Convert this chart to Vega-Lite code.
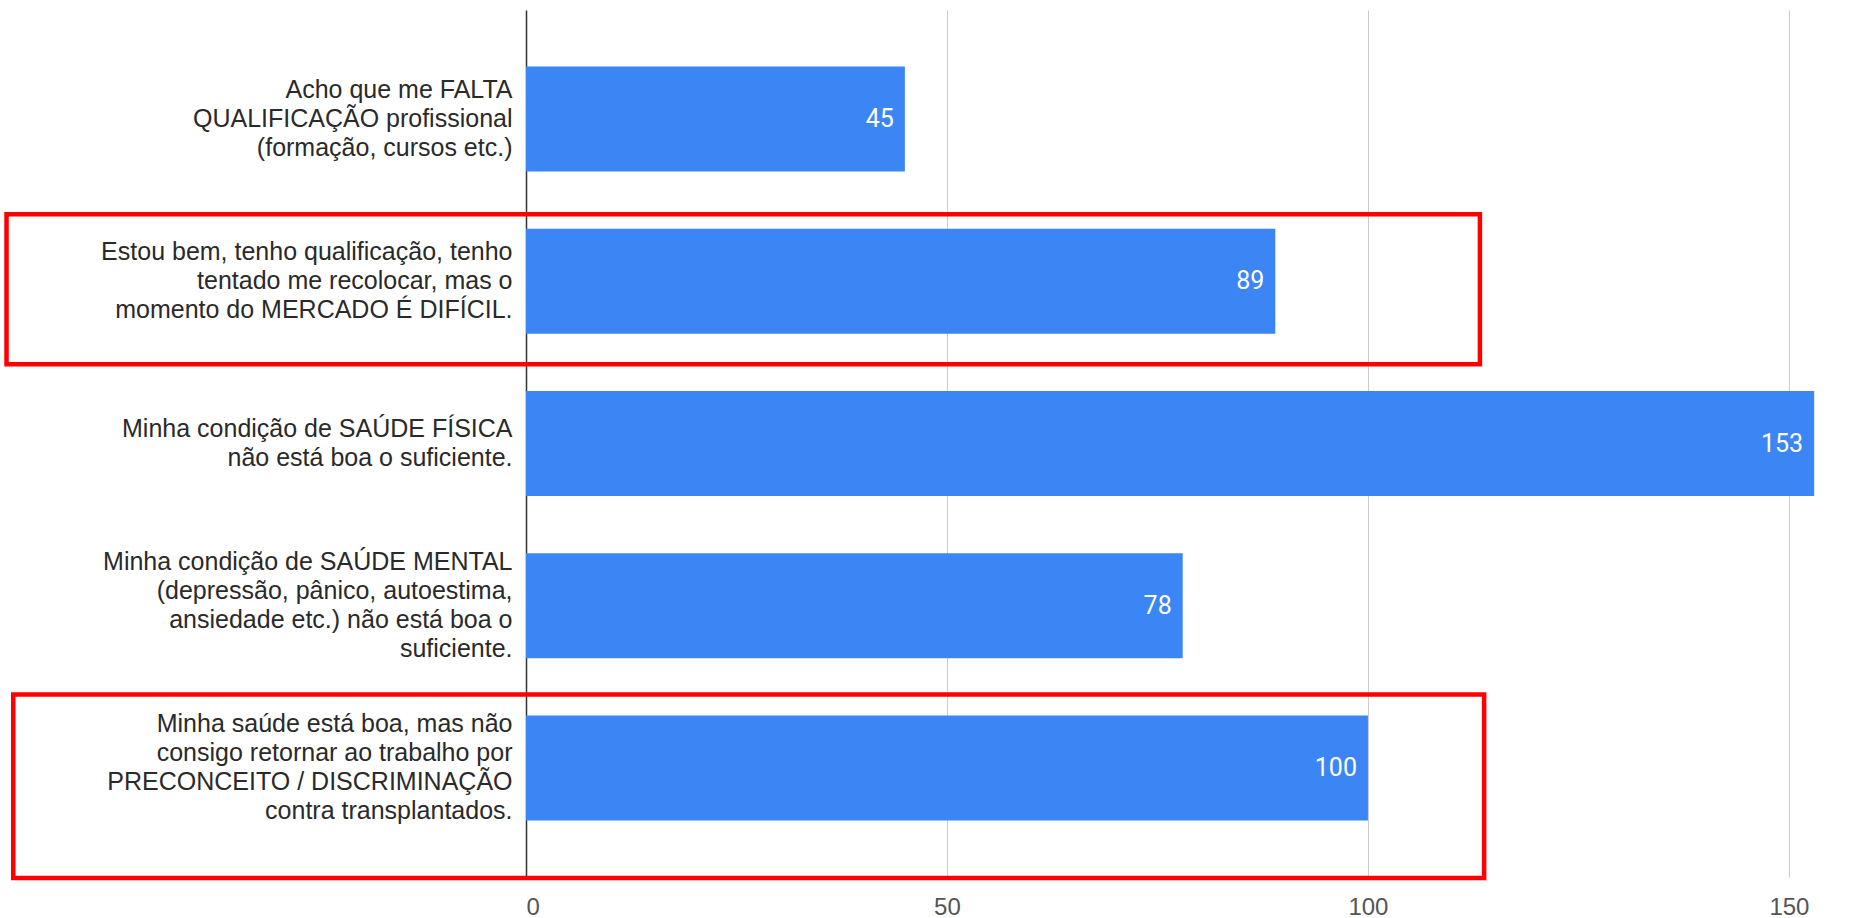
{
  "$schema": "https://vega.github.io/schema/vega-lite/v6.json",
  "width": 1305,
  "height": 867,
  "autosize": {"type": "none"},
  "padding": {"left": 526, "top": 10, "right": 19, "bottom": 41},
  "background": "white",
  "config": {"view": {"stroke": null}, "font": "Liberation Sans"},
  "data": {
    "values": [
      {"answer": "Acho que me FALTA\nQUALIFICAÇÃO profissional\n(formação, cursos etc.)", "count": 45, "box": 0},
      {"answer": "Estou bem, tenho qualificação, tenho\ntentado me recolocar, mas o\nmomento do MERCADO É DIFÍCIL.", "count": 89, "box": 1, "boxFrom": -61.7, "boxTo": 113.3},
      {"answer": "Minha condição de SAÚDE FÍSICA\nnão está boa o suficiente.", "count": 153, "box": 0},
      {"answer": "Minha condição de SAÚDE MENTAL\n(depressão, pânico, autoestima,\nansiedade etc.) não está boa o\nsuficiente.", "count": 78, "box": 0},
      {"answer": "Minha saúde está boa, mas não\nconsigo retornar ao trabalho por\nPRECONCEITO / DISCRIMINAÇÃO\ncontra transplantados.", "count": 100, "box": 2, "boxFrom": -60.9, "boxTo": 113.8}
    ]
  },
  "layer": [
    {
      "mark": {"type": "bar", "color": "#3c85f4"},
      "encoding": {
        "y": {
          "field": "answer", "type": "nominal", "sort": null,
          "scale": {"paddingInner": 0.353, "paddingOuter": 0.349},
          "axis": {
            "title": null, "domain": false, "ticks": false, "grid": false,
            "labelExpr": "split(datum.label, '\\n')",
            "labelFontSize": 25, "labelLineHeight": 29, "labelColor": "#2a2a2a",
            "labelPadding": 14, "labelLimit": 0, "labelAlign": "right", "labelBaseline": "middle",
            "labelOffset": {
              "condition": [
                {"test": "length(split(datum.label, '\\n')) == 4", "value": -43.5},
                {"test": "length(split(datum.label, '\\n')) == 3", "value": -29}
              ],
              "value": -14.5
            },
            "labelFont": "Liberation Sans"
          }
        },
        "x": {
          "field": "count", "type": "quantitative",
          "scale": {"domain": [0, 155], "nice": false},
          "axis": {
            "title": null, "domain": false, "ticks": false, "grid": true,
            "values": [0, 50, 100, 150],
            "gridColor": {"condition": {"test": "datum.value === 0", "value": "#333333"}, "value": "#cccccc"},
            "gridWidth": {"condition": {"test": "datum.value === 0", "value": 1.5}, "value": 1},
            "labelFontSize": 24, "labelColor": "#555555", "labelPadding": 18,
            "labelFont": "Liberation Sans"
          }
        }
      }
    },
    {
      "mark": {"type": "text", "align": "right", "baseline": "middle", "dx": -11, "color": "white", "fontSize": 25, "font": "Roboto"},
      "encoding": {
        "y": {"field": "answer", "type": "nominal", "sort": null},
        "x": {"field": "count", "type": "quantitative"},
        "text": {"field": "count", "type": "quantitative"}
      }
    },
    {
      "transform": [{"filter": "datum.box == 1"}],
      "mark": {"type": "rect", "filled": false, "color": "#ff0000", "strokeWidth": 4.5},
      "encoding": {
        "y": {"field": "answer", "type": "nominal", "sort": null, "bandPosition": -0.14},
        "y2": {"field": "answer", "bandPosition": 1.29},
        "x": {"field": "boxFrom", "type": "quantitative"},
        "x2": {"field": "boxTo"}
      }
    },
    {
      "transform": [{"filter": "datum.box == 2"}],
      "mark": {"type": "rect", "filled": false, "color": "#ff0000", "strokeWidth": 4.5},
      "encoding": {
        "y": {"field": "answer", "type": "nominal", "sort": null, "bandPosition": -0.2},
        "y2": {"field": "answer", "bandPosition": 1.55},
        "x": {"field": "boxFrom", "type": "quantitative"},
        "x2": {"field": "boxTo"}
      }
    }
  ]
}
